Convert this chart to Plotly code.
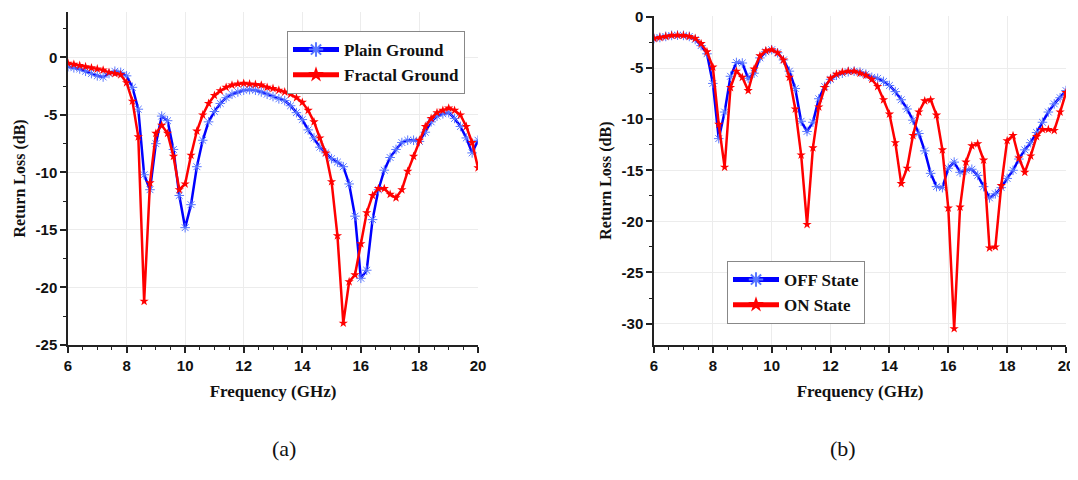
import plotly.graph_objects as go

# ---------------- data ----------------
freq = [6.0, 6.2, 6.4, 6.6, 6.8, 7.0, 7.2, 7.4, 7.6, 7.8,
        8.0, 8.2, 8.4, 8.6, 8.8, 9.0, 9.2, 9.4, 9.6, 9.8,
        10.0, 10.2, 10.4, 10.6, 10.8, 11.0, 11.2, 11.4, 11.6, 11.8,
        12.0, 12.2, 12.4, 12.6, 12.8, 13.0, 13.2, 13.4, 13.6, 13.8,
        14.0, 14.2, 14.4, 14.6, 14.8, 15.0, 15.2, 15.4, 15.6, 15.8,
        16.0, 16.2, 16.4, 16.6, 16.8, 17.0, 17.2, 17.4, 17.6, 17.8,
        18.0, 18.2, 18.4, 18.6, 18.8, 19.0, 19.2, 19.4, 19.6, 19.8, 20.0]

plain_ground = [-0.8, -0.9, -1.0, -1.2, -1.4, -1.6, -1.7, -1.4, -1.2, -1.3,
                -1.6, -2.6, -4.5, -10.2, -11.5, -7.5, -5.1, -5.5, -8.0, -12.0,
                -14.8, -12.8, -9.5, -7.2, -5.6, -4.7, -4.0, -3.5, -3.2, -3.0,
                -2.85, -2.8, -2.85, -3.0, -3.2, -3.4, -3.6, -3.75, -4.2, -4.8,
                -5.4, -6.3, -7.0, -7.8, -8.3, -8.8, -9.1, -9.5, -11.0, -13.8,
                -19.2, -18.5, -14.1, -11.5, -9.8, -8.7, -8.0, -7.4, -7.2, -7.2,
                -7.3, -6.5, -5.6, -5.1, -4.9, -4.8, -5.3, -6.0, -7.0, -8.3, -7.2]

fractal_ground = [-0.5, -0.6, -0.7, -0.8, -0.9, -1.0, -1.1, -1.3, -1.4, -1.5,
                  -2.2, -3.8, -6.9, -21.2, -10.9, -6.6, -5.9, -6.6, -8.6, -11.5,
                  -11.0, -8.5, -6.4, -5.0, -4.0, -3.3, -2.9, -2.6, -2.4, -2.3,
                  -2.25, -2.3, -2.35, -2.4, -2.6, -2.7, -2.85, -3.0, -3.2, -3.5,
                  -3.9, -4.6, -5.6, -7.0, -8.3, -10.8, -15.5, -23.1, -19.5, -18.9,
                  -16.2, -13.5, -12.0, -11.4, -11.4, -11.9, -12.2, -11.5, -9.9, -8.6,
                  -7.2, -6.0, -5.3, -4.8, -4.6, -4.4, -4.6, -5.0, -6.0, -7.4, -9.6]

off_state = [-2.1, -2.0, -1.9, -1.8, -1.78, -1.8, -1.9, -2.2, -2.8, -3.6,
             -6.5, -11.9, -9.3, -5.8, -4.45, -4.5, -6.0, -5.5, -4.0, -3.4,
             -3.2, -3.5, -4.2, -5.3, -7.0, -10.2, -11.2, -10.3, -8.0, -6.8,
             -6.1, -5.7, -5.5, -5.35, -5.3, -5.4, -5.6, -5.9, -6.0, -6.3,
             -6.7, -7.3, -8.1, -9.0, -10.1, -11.4, -13.1, -15.3, -16.6, -16.7,
             -14.8, -14.2, -15.2, -15.0, -14.9, -15.5, -16.6, -17.7, -17.3, -16.7,
             -15.8, -15.0, -13.9, -13.0, -12.3, -11.3, -10.3, -9.3, -8.5, -7.9, -7.2]

on_state = [-2.1, -2.0, -1.9, -1.8, -1.78, -1.8, -1.9, -2.1, -2.6, -3.4,
            -4.9, -10.5, -14.7, -6.9, -5.3, -5.9, -7.2, -5.1, -3.8, -3.3,
            -3.2, -3.5, -4.2, -5.9, -9.0, -13.5, -20.3, -12.8, -8.8, -6.9,
            -6.0, -5.6, -5.4, -5.3, -5.3, -5.5, -5.7, -6.1, -6.8, -8.1,
            -9.5, -12.3, -16.3, -14.8, -11.6, -9.3, -8.2, -8.1, -9.6, -13.0,
            -18.7, -30.5, -18.6, -14.2, -12.6, -12.4, -14.0, -22.6, -22.5, -16.5,
            -12.1, -11.6, -13.8, -15.2, -13.6, -11.7, -11.0, -11.0, -11.1, -9.3, -7.4]

x_ticks = [6, 8, 10, 12, 14, 16, 18, 20]
y_ticks_a = [-25, -20, -15, -10, -5, 0]
y_ticks_b = [-30, -25, -20, -15, -10, -5, 0]

# ---------------- styling ----------------
BLUE = "#0000ff"
RED = "#ff0000"
SERIF = "Liberation Serif, Times New Roman, serif"
SANS = "Liberation Sans, Arial, sans-serif"
W, H = 1078, 480
OFF = 8  # page body margin in the browser


def px_x(p):
    return (p - OFF) / W


def px_y(p):
    return 1 - (p - OFF) / H


fig = go.Figure()


def add_pair(xa, ya, b_vals, r_vals, b_name, r_name, legend):
    fig.add_trace(go.Scatter(
        x=freq, y=b_vals, name=b_name, mode="lines+markers",
        line=dict(color=BLUE, width=2.5),
        marker=dict(symbol="asterisk-open", size=8, color="#5a78ff",
                    line=dict(color="#5a78ff", width=1)),
        xaxis=xa, yaxis=ya, legend=legend))
    fig.add_trace(go.Scatter(
        x=freq, y=r_vals, name=r_name, mode="lines+markers",
        line=dict(color=RED, width=2.5),
        marker=dict(symbol="star", size=7, color=RED,
                    line=dict(color=RED, width=0)),
        xaxis=xa, yaxis=ya, legend=legend))


add_pair("x", "y", plain_ground, fractal_ground, "Plain Ground", "Fractal Ground", "legend")
add_pair("x2", "y2", off_state, on_state, "OFF State", "ON State", "legend2")


def xaxis_style(domain, anchor):
    return dict(
        domain=domain, anchor=anchor, range=[6, 20], automargin=False,
        tickvals=x_ticks, ticktext=[str(v) for v in x_ticks],
        ticks="outside", ticklen=6, tickwidth=1.5, tickcolor="#222",
        ticklabeloverflow="allow",
        minor=dict(dtick=0.5, tick0=6, ticks="outside", ticklen=3,
                   tickwidth=1, tickcolor="#222", showgrid=False),
        showline=True, linecolor="#222", linewidth=1.5, mirror=False,
        showgrid=True, gridcolor="#ececec", gridwidth=1, zeroline=False,
        tickfont=dict(family=SANS, size=15, color="#111", weight="bold"),
        title=dict(text="Frequency (GHz)", standoff=12,
                   font=dict(family=SERIF, size=17, color="#111", weight="bold")),
    )


def yaxis_style(domain, anchor, rng, ticks):
    return dict(
        domain=domain, anchor=anchor, range=rng, automargin=False,
        tickvals=ticks, ticktext=[str(v) for v in ticks],
        ticks="outside", ticklen=6, tickwidth=1.5, tickcolor="#222",
        ticklabeloverflow="allow",
        minor=dict(dtick=2.5, tick0=0, ticks="outside", ticklen=3,
                   tickwidth=1, tickcolor="#222", showgrid=False),
        showline=True, linecolor="#222", linewidth=1.5, mirror=False,
        showgrid=True, gridcolor="#ececec", gridwidth=1, zeroline=False,
        tickfont=dict(family=SANS, size=15, color="#111", weight="bold"),
        title=dict(text="Return Loss (dB)", standoff=6,
                   font=dict(family=SERIF, size=16, color="#111", weight="bold")),
    )


legend_common = dict(
    bgcolor="white", bordercolor="#888", borderwidth=1,
    font=dict(family=SERIF, size=17, color="#111", weight="bold"),
    xanchor="left", yanchor="top", itemsizing="constant",
    itemwidth=46, tracegroupgap=0,
)

fig.update_layout(
    width=W, height=H,
    margin=dict(l=0, r=0, t=0, b=0, autoexpand=False),
    paper_bgcolor="white", plot_bgcolor="white",
    showlegend=True,
    xaxis=xaxis_style([px_x(68), px_x(478)], "y"),
    yaxis=yaxis_style([px_y(345), px_y(12)], "x", [-25, 3.95], y_ticks_a),
    xaxis2=xaxis_style([px_x(654), px_x(1066)], "y2"),
    yaxis2=yaxis_style([px_y(345), px_y(16.2)], "x2", [-32.1, 0.08], y_ticks_b),
    legend=dict(x=px_x(287), y=px_y(31), **legend_common),
    legend2=dict(x=px_x(727), y=px_y(261), **legend_common),
    annotations=[
        dict(text="(a)", x=px_x(270), y=px_y(463), xref="paper", yref="paper",
             showarrow=False, font=dict(family=SERIF, size=22, color="#111")),
        dict(text="(b)", x=px_x(858), y=px_y(463), xref="paper", yref="paper",
             showarrow=False, font=dict(family=SERIF, size=22, color="#111")),
    ],
)

fig.write_html("out.html")
